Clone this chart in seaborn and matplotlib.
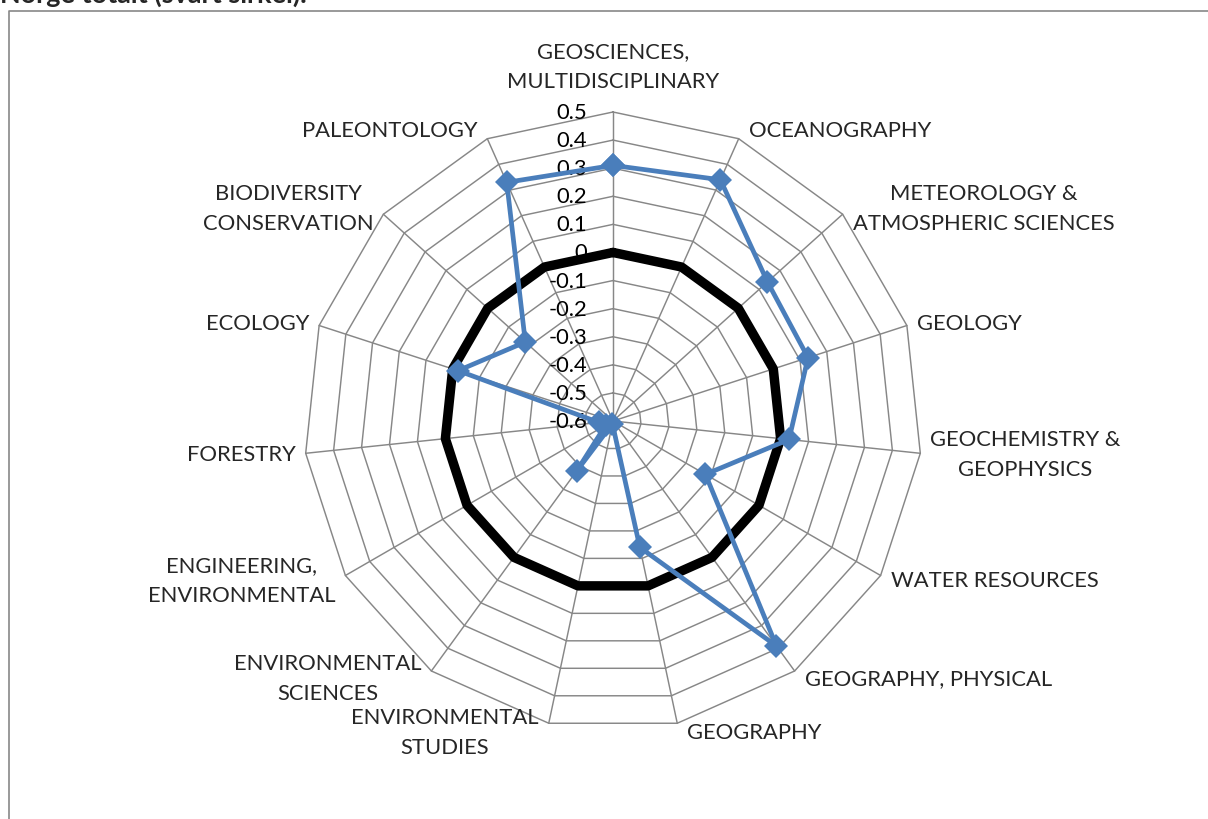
import numpy as np
import matplotlib
matplotlib.use("Agg")
import matplotlib.pyplot as plt
import seaborn as sns

categories = [
    "GEOSCIENCES,\nMULTIDISCIPLINARY",
    "OCEANOGRAPHY",
    "METEOROLOGY &\nATMOSPHERIC SCIENCES",
    "GEOLOGY",
    "GEOCHEMISTRY &\nGEOPHYSICS",
    "WATER RESOURCES",
    "GEOGRAPHY, PHYSICAL",
    "GEOGRAPHY",
    "ENVIRONMENTAL\nSTUDIES",
    "ENVIRONMENTAL\nSCIENCES",
    "ENGINEERING,\nENVIRONMENTAL",
    "FORESTRY",
    "ECOLOGY",
    "BIODIVERSITY\nCONSERVATION",
    "PALEONTOLOGY",
]
series_values = [0.31, 0.34, 0.14, 0.13, 0.03, -0.22, 0.39, -0.14,
                 -0.59, -0.38, -0.57, -0.55, -0.02, -0.18, 0.33]
norway_total = [0.0] * len(categories)
tick_values = [0.5, 0.4, 0.3, 0.2, 0.1, 0.0, -0.1, -0.2, -0.3, -0.4, -0.5, -0.6]
tick_labels = ["0.5", "0.4", "0.3", "0.2", "0.1", "0", "-0.1", "-0.2",
               "-0.3", "-0.4", "-0.5", "-0.6"]
title_text = "Norge totalt (svart sirkel)."

sns.set_theme(style="white")
plt.rcParams["font.family"] = ["Lato", "DejaVu Sans"]

W, H = 1208, 820
fig = plt.figure(figsize=(W / 100, H / 100), dpi=100)
ax = fig.add_axes([0, 0, 1, 1])
ax.set_xlim(0, W)
ax.set_ylim(H, 0)
ax.axis("off")

CX, CY, R = 613, 422, 309
vmin, vmax = -0.6, 0.5
n = len(categories)
angles = np.deg2rad(np.arange(n) * 360.0 / n)


def to_xy(vals):
    vals = np.asarray(vals, dtype=float)
    r = (vals - vmin) / (vmax - vmin) * R
    return CX + r * np.sin(angles), CY - r * np.cos(angles)


def closed(a):
    a = np.asarray(a)
    return np.append(a, a[0])


grid_col = "#878787"
# rings
for v in tick_values:
    if v <= vmin:
        continue
    gx, gy = to_xy([v] * n)
    ax.plot(closed(gx), closed(gy), color=grid_col, lw=1.05, zorder=1)
# spokes
ox, oy = to_xy([vmax] * n)
for x, y in zip(ox, oy):
    ax.plot([CX, x], [CY, y], color=grid_col, lw=1.05, zorder=1)

# radial tick labels
fs_px = 22
for v, lab in zip(tick_values, tick_labels):
    r = (v - vmin) / (vmax - vmin) * R
    ax.text(CX - 26, CY - r, lab, ha="right", va="center",
            fontsize=fs_px * 0.72, color="black", zorder=2)

# category labels
LS = 1.62
for i, (lab, a) in enumerate(zip(categories, angles)):
    vx, vy = ox[i], oy[i]
    s, c = np.sin(a), np.cos(a)
    if abs(s) < 1e-6:
        ax.text(vx, vy - 21, lab, ha="center", va="bottom", multialignment="center",
                fontsize=fs_px * 0.72, linespacing=LS, zorder=2)
        continue
    ha = "left" if s > 0 else "right"
    ax.text(vx + 10 * np.sign(s), vy - 9 * c, lab, ha=ha, va="center",
            multialignment="center", fontsize=fs_px * 0.72, linespacing=LS, zorder=2)

# black reference polygon (Norway total)
bx, by = to_xy(norway_total)
sns.lineplot(x=closed(bx), y=closed(by), sort=False, estimator=None,
             color="black", lw=6.8, ax=ax, zorder=3, legend=False)

# blue series
sx, sy = to_xy(series_values)
sns.lineplot(x=closed(sx), y=closed(sy), sort=False, estimator=None,
             color="#4A7EBB", lw=3.4, marker="D", markersize=12,
             markeredgewidth=0, ax=ax, zorder=4, legend=False)

ax.set_xlim(0, W)
ax.set_ylim(H, 0)

# frame
ax.plot([9, 9, W + 5], [H + 5, 12, 12], color=grid_col, lw=1.2, zorder=0,
        clip_on=False)

# title (cut at top as in original)
ax.text(0, 3, title_text, ha="left", va="baseline", fontsize=27 * 0.72,
        fontweight="bold", zorder=5)

fig.savefig("out.png", dpi=100)
